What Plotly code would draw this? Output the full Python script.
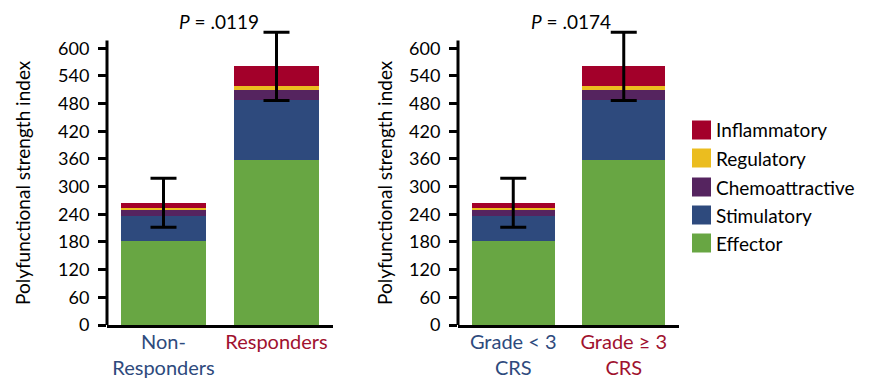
import plotly.graph_objects as go

groups_left = ["Non-<br>Responders", "Responders"]
groups_right = ["Grade < 3<br>CRS", "Grade ≥ 3<br>CRS"]
label_colors = ["#2E4A7D", "#A0112E"]

categories = ["Effector", "Stimulatory", "Chemoattractive", "Regulatory", "Inflammatory"]
colors = ["#68A643", "#2E4A7D", "#55245F", "#EBBD1F", "#A3002A"]

left_values = {
    "Effector": [183, 357],
    "Stimulatory": [53, 130],
    "Chemoattractive": [15, 23],
    "Regulatory": [2, 9],
    "Inflammatory": [12, 42],
}
right_values = {
    "Effector": [183, 357],
    "Stimulatory": [53, 130],
    "Chemoattractive": [15, 23],
    "Regulatory": [2, 9],
    "Inflammatory": [12, 42],
}
left_err = [53, 74]
right_err = [53, 74]
p_left = ".0119"
p_right = ".0174"
y_ticks = [0, 60, 120, 180, 240, 300, 360, 420, 480, 540, 600]
axis_top = 617

FONT = "Lato"
W, H = 873, 390

fig = go.Figure()

def add_panel(vals, errs, xa, ya):
    xs = [0, 1]
    for cat, col in zip(categories, colors):
        fig.add_trace(go.Bar(x=xs, y=vals[cat], name=cat, marker_color=col,
                             marker_line_width=0, width=0.75, xaxis=xa, yaxis=ya,
                             showlegend=False, hoverinfo="skip"))
    totals = [sum(vals[c][i] for c in categories) for i in range(2)]
    fig.add_trace(go.Scatter(x=xs, y=totals, mode="markers",
                             marker=dict(size=1, opacity=0), cliponaxis=False,
                             error_y=dict(type="data", array=errs, color="black",
                                          thickness=3, width=13),
                             xaxis=xa, yaxis=ya, showlegend=False, hoverinfo="skip"))

add_panel(left_values, left_err, "x", "y")
add_panel(right_values, right_err, "x2", "y2")

y0 = 1 - 325 / H
ppu = (325 - 48.3) / 600.0
yrange = [0, 640]
y1 = 1 - (325 - 640 * ppu) / H

def ticktext(labels):
    return [f"<span style='color:{c}'>{l}</span>" for l, c in zip(labels, label_colors)]

yaxis_common = dict(showline=False, showgrid=False, automargin=False,
                    zeroline=False, ticks="outside", ticklen=8, tickwidth=2.5,
                    tickcolor="black", ticklabelstandoff=5,
                    tickfont=dict(family=FONT, size=18, color="black"),
                    range=yrange, tickvals=y_ticks, fixedrange=True)
xaxis_common = dict(range=[-0.5, 1.5], tickvals=[0, 1], showline=True, linecolor="black",
                    linewidth=3, ticks="", showgrid=False, zeroline=False, automargin=False,
                    ticklabelstandoff=-3,
                    tickfont=dict(family=FONT, size=20), fixedrange=True)

fig.update_layout(
    template="none",
    width=W, height=H, margin=dict(l=0, r=0, t=0, b=0, autoexpand=False),
    paper_bgcolor="white", plot_bgcolor="white",
    barmode="stack", showlegend=False,
    font=dict(family=FONT),
    xaxis=dict(domain=[107 / W, 333 / W], ticktext=ticktext(groups_left), anchor="y",
               **xaxis_common),
    yaxis=dict(domain=[y0, y1], anchor="x", **yaxis_common),
    xaxis2=dict(domain=[458 / W, 679 / W], ticktext=ticktext(groups_right), anchor="y2",
                **xaxis_common),
    yaxis2=dict(domain=[y0, y1], anchor="x2", **yaxis_common),
)

shapes = []
for xr, yr in [("x domain", "y"), ("x2 domain", "y2")]:
    shapes.append(dict(type="line", xref=xr, yref=yr, x0=0, x1=0, y0=-3, y1=axis_top,
                       line=dict(color="black", width=3)))

annotations = []
for xc, p in [(219, p_left), (571, p_right)]:
    annotations.append(dict(x=xc / W, y=1 - 21 / H, xref="paper", yref="paper",
                            text=f"<i>P</i> = {p}", showarrow=False,
                            font=dict(family=FONT, size=19, color="black"),
                            xanchor="center", yanchor="middle"))
for xc in [22, 384]:
    annotations.append(dict(x=xc / W, y=1 - 183 / H, xref="paper", yref="paper",
                            text="Polyfunctional strength index", textangle=-90,
                            showarrow=False, font=dict(family=FONT, size=19, color="black"),
                            xanchor="center", yanchor="middle"))

leg_y = [130, 158, 187, 215, 243]
for i, (cat, col) in enumerate(zip(categories[::-1], colors[::-1])):
    yc = leg_y[i]
    shapes.append(dict(type="rect", xref="paper", yref="paper",
                       x0=692 / W, x1=711 / W, y0=1 - (yc + 9.5) / H, y1=1 - (yc - 9.5) / H,
                       fillcolor=col, line_width=0))
    annotations.append(dict(x=714 / W, y=1 - yc / H, xref="paper", yref="paper",
                            text=cat, showarrow=False, xanchor="left", yanchor="middle",
                            font=dict(family=FONT, size=19, color="black")))

fig.update_layout(annotations=annotations, shapes=shapes)
fig.write_html("out.html", config={"displayModeBar": False},
               post_script="document.body.style.margin='0px';document.body.style.overflow='hidden';")
